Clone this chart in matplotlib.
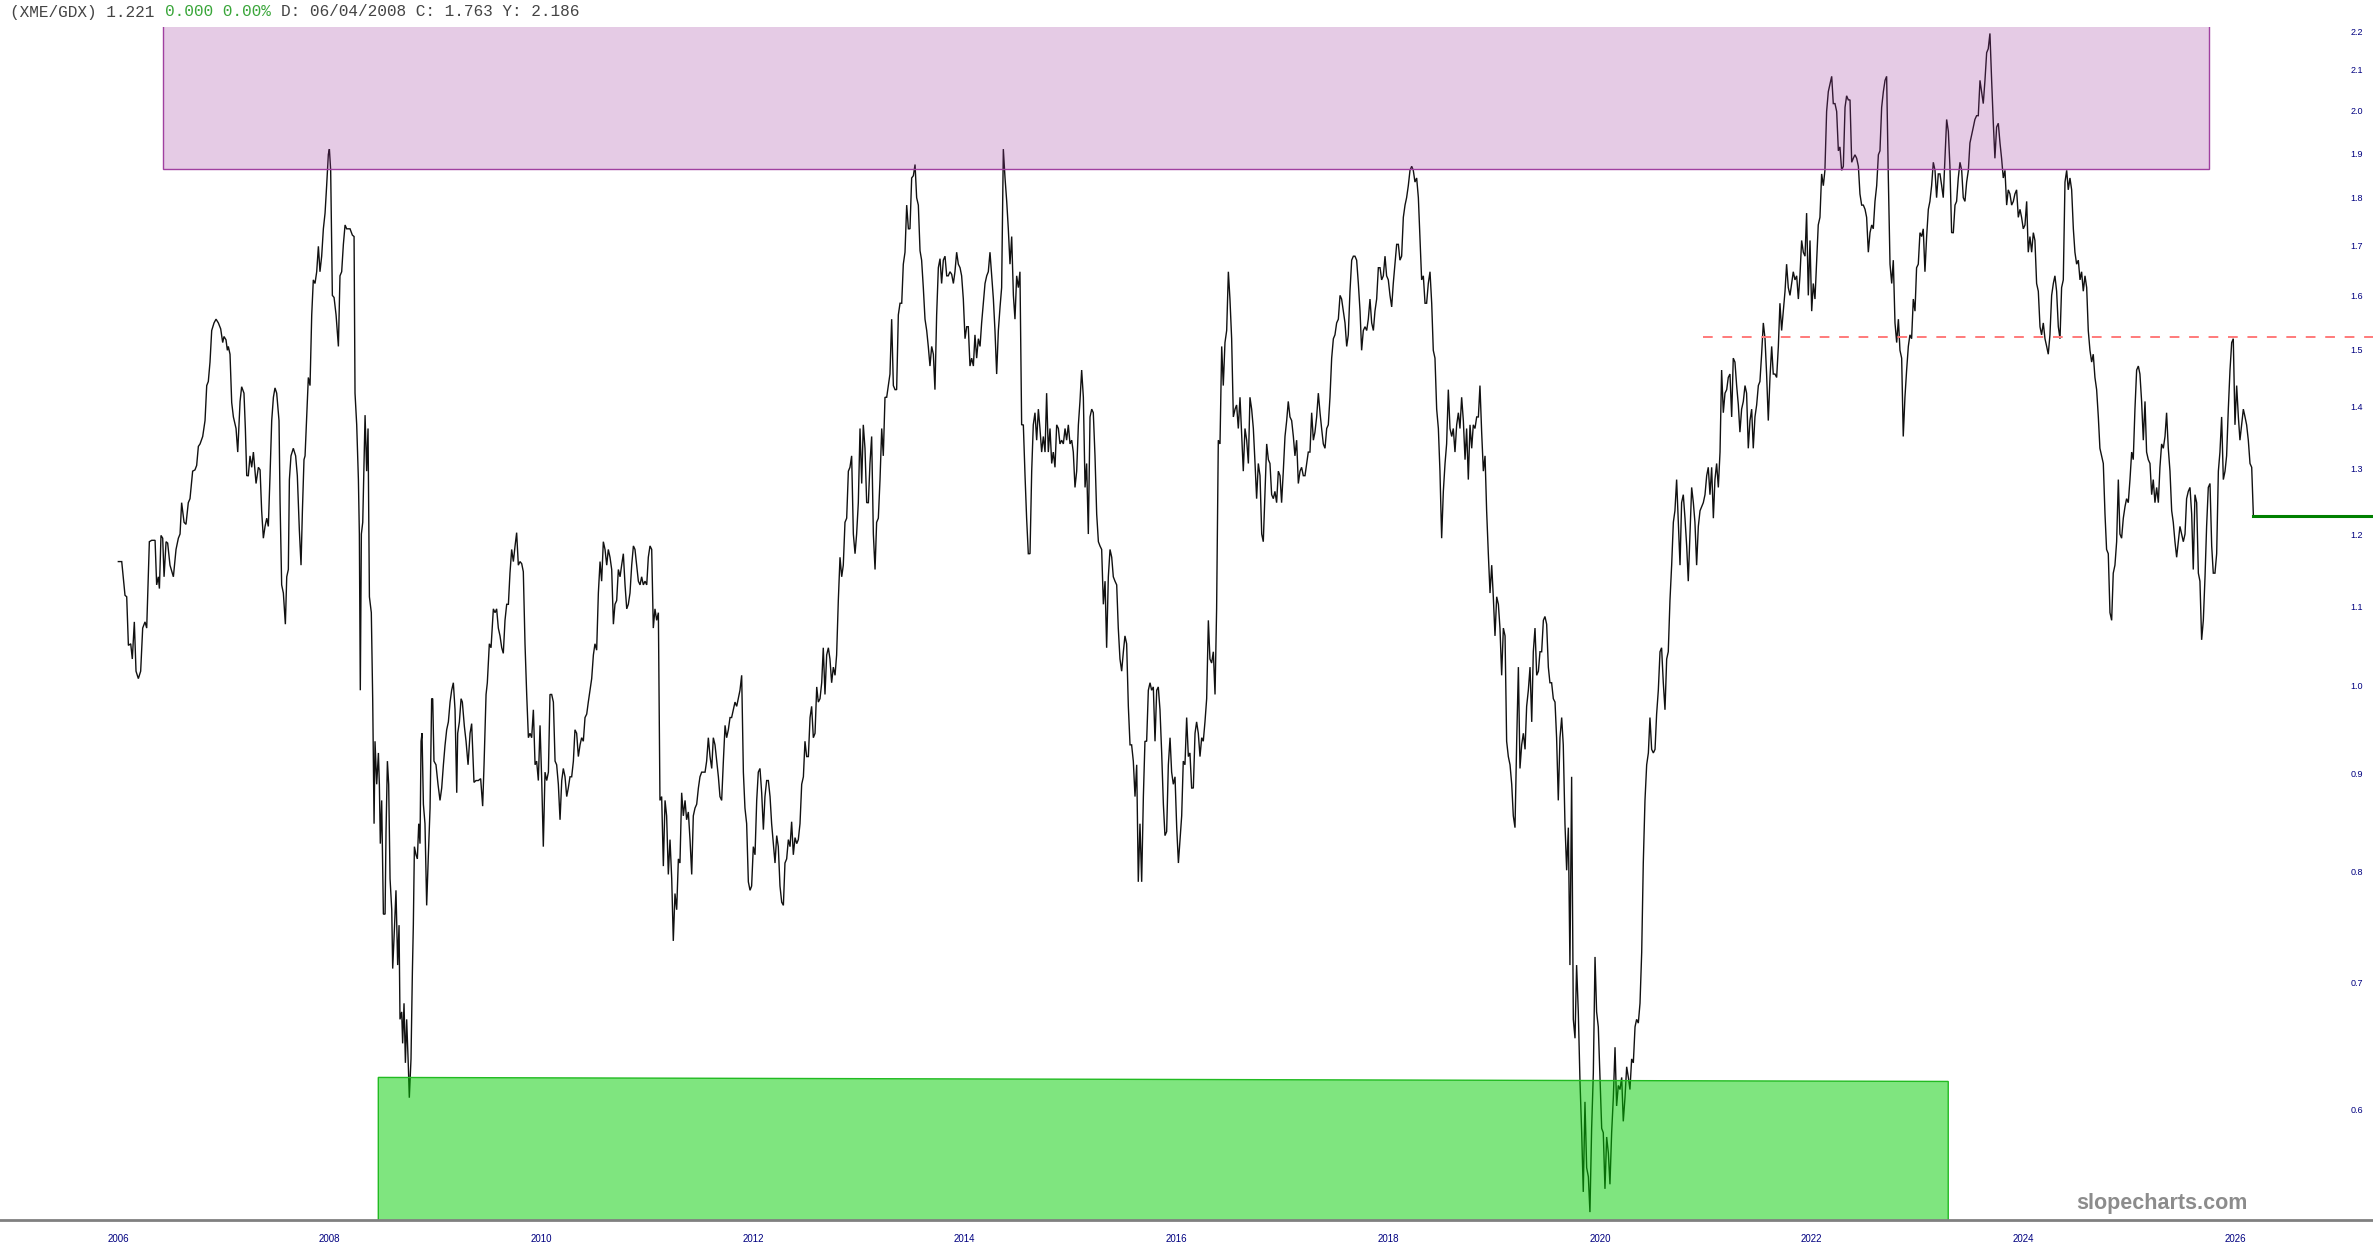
import numpy as np
import matplotlib
matplotlib.use("Agg")
import matplotlib.pyplot as plt
from matplotlib.patches import Rectangle, Polygon
from matplotlib.ticker import FixedLocator, NullLocator, NullFormatter
from matplotlib.transforms import ScaledTranslation

plt.rcParams['font.family'] = ['Liberation Sans', 'DejaVu Sans']

# --- XME/GDX ratio (decimal year, ratio), one block per period ---
yr_06_09 = [
    2006.003, 2006.035, 2006.066, 2006.082, 2006.098, 2006.120, 2006.135, 2006.154, 2006.170, 2006.192,
    2006.214, 2006.233, 2006.255, 2006.271, 2006.296, 2006.318, 2006.350, 2006.365, 2006.381, 2006.391,
    2006.406, 2006.422, 2006.435, 2006.454, 2006.469, 2006.491, 2006.523, 2006.548, 2006.570, 2006.586,
    2006.601, 2006.624, 2006.642, 2006.664, 2006.680, 2006.705, 2006.727, 2006.743, 2006.759, 2006.775,
    2006.800, 2006.822, 2006.838, 2006.853, 2006.869, 2006.885, 2006.907, 2006.926, 2006.948, 2006.970,
    2006.989, 2007.001, 2007.020, 2007.033, 2007.042, 2007.058, 2007.074, 2007.090, 2007.115, 2007.131,
    2007.153, 2007.168, 2007.190, 2007.203, 2007.216, 2007.231, 2007.247, 2007.263, 2007.279, 2007.294,
    2007.304, 2007.326, 2007.342, 2007.357, 2007.373, 2007.389, 2007.405, 2007.420, 2007.436, 2007.452,
    2007.468, 2007.483, 2007.499, 2007.521, 2007.531, 2007.546, 2007.562, 2007.581, 2007.594, 2007.609,
    2007.619, 2007.634, 2007.656, 2007.678, 2007.694, 2007.713, 2007.729, 2007.742, 2007.757, 2007.767,
    2007.782, 2007.798, 2007.814, 2007.830, 2007.845, 2007.861, 2007.877, 2007.893, 2007.908, 2007.924,
    2007.940, 2007.956, 2007.971, 2007.987, 2007.997, 2008.009, 2008.025, 2008.041, 2008.060, 2008.082,
    2008.097, 2008.113, 2008.129, 2008.145, 2008.160, 2008.192, 2008.214, 2008.230, 2008.239, 2008.255,
    2008.271, 2008.280, 2008.289, 2008.299, 2008.312, 2008.334, 2008.349, 2008.362, 2008.375, 2008.393,
    2008.406, 2008.419, 2008.428, 2008.444, 2008.460, 2008.469, 2008.478, 2008.491, 2008.507, 2008.523,
    2008.532, 2008.545, 2008.557, 2008.570, 2008.586, 2008.595, 2008.611, 2008.626, 2008.642, 2008.655,
    2008.664, 2008.680, 2008.689, 2008.702, 2008.715, 2008.727, 2008.743, 2008.752, 2008.768, 2008.781,
    2008.790, 2008.800, 2008.815, 2008.828, 2008.841, 2008.853, 2008.863, 2008.872, 2008.885, 2008.900,
    2008.916, 2008.932, 2008.948, 2008.963, 2008.973, 2008.985, 2009.004, 2009.023, 2009.042, 2009.058,
    2009.074, 2009.089, 2009.105, 2009.121, 2009.137, 2009.152, 2009.168, 2009.184, 2009.200, 2009.209,
    2009.225, 2009.241, 2009.253, 2009.272, 2009.288, 2009.307, 2009.326]
ratio_06_09 = [
    1.156, 1.156, 1.110, 1.108, 1.045, 1.047, 1.028, 1.075, 1.013, 1.004,
    1.013, 1.067, 1.075, 1.067, 1.184, 1.186, 1.186, 1.124, 1.135, 1.119,
    1.193, 1.189, 1.135, 1.184, 1.182, 1.151, 1.135, 1.173, 1.189, 1.195,
    1.241, 1.212, 1.209, 1.241, 1.247, 1.289, 1.291, 1.298, 1.328, 1.332,
    1.344, 1.370, 1.429, 1.436, 1.470, 1.527, 1.541, 1.548, 1.541, 1.530,
    1.505, 1.516, 1.510, 1.491, 1.498, 1.484, 1.400, 1.376, 1.357, 1.319,
    1.402, 1.427, 1.416, 1.357, 1.282, 1.282, 1.313, 1.295, 1.319, 1.289,
    1.270, 1.295, 1.291, 1.229, 1.189, 1.206, 1.218, 1.206, 1.282, 1.370,
    1.409, 1.425, 1.416, 1.370, 1.241, 1.124, 1.113, 1.072, 1.135, 1.145,
    1.276, 1.313, 1.325, 1.313, 1.282, 1.201, 1.151, 1.229, 1.307, 1.313,
    1.376, 1.443, 1.429, 1.556, 1.623, 1.616, 1.639, 1.690, 1.639, 1.670,
    1.726, 1.759, 1.818, 1.888, 1.900, 1.852, 1.593, 1.589, 1.556, 1.498,
    1.631, 1.639, 1.694, 1.734, 1.726, 1.726, 1.713, 1.710, 1.416, 1.363,
    1.276, 1.195, 0.990, 1.195, 1.212, 1.379, 1.289, 1.357, 1.108, 1.087,
    0.980, 0.843, 0.931, 0.884, 0.918, 0.884, 0.823, 0.867, 0.756, 0.756,
    0.835, 0.909, 0.884, 0.789, 0.760, 0.708, 0.742, 0.778, 0.711, 0.746,
    0.666, 0.672, 0.647, 0.679, 0.632, 0.666, 0.629, 0.606, 0.635, 0.705,
    0.746, 0.820, 0.812, 0.808, 0.843, 0.823, 0.931, 0.940, 0.863, 0.843,
    0.764, 0.812, 0.859, 0.980, 0.980, 0.909, 0.905, 0.884, 0.867, 0.880,
    0.905, 0.926, 0.944, 0.953, 0.976, 0.990, 0.999, 0.967, 0.875, 0.940,
    0.953, 0.980, 0.976, 0.948, 0.931, 0.905, 0.940]

yr_09_12 = [
    2009.341, 2009.363, 2009.382, 2009.404, 2009.426, 2009.445, 2009.458, 2009.477, 2009.489, 2009.508, 2009.524,
    2009.546, 2009.562, 2009.577, 2009.593, 2009.609, 2009.625, 2009.640, 2009.656, 2009.672, 2009.688,
    2009.703, 2009.719, 2009.735, 2009.751, 2009.766, 2009.782, 2009.798, 2009.814, 2009.829, 2009.845,
    2009.861, 2009.877, 2009.892, 2009.908, 2009.924, 2009.940, 2009.955, 2009.971, 2009.987, 2010.003,
    2010.018, 2010.034, 2010.050, 2010.066, 2010.081, 2010.097, 2010.113, 2010.129, 2010.144, 2010.160,
    2010.176, 2010.192, 2010.207, 2010.223, 2010.239, 2010.254, 2010.270, 2010.286, 2010.302, 2010.317,
    2010.333, 2010.349, 2010.365, 2010.380, 2010.396, 2010.412, 2010.428, 2010.443, 2010.459, 2010.475,
    2010.491, 2010.506, 2010.522, 2010.538, 2010.554, 2010.569, 2010.585, 2010.601, 2010.617, 2010.632,
    2010.648, 2010.664, 2010.680, 2010.695, 2010.711, 2010.727, 2010.743, 2010.758, 2010.774, 2010.790,
    2010.806, 2010.821, 2010.837, 2010.853, 2010.869, 2010.884, 2010.900, 2010.916, 2010.932, 2010.947,
    2010.963, 2010.979, 2010.995, 2011.010, 2011.026, 2011.042, 2011.057, 2011.073, 2011.089, 2011.105,
    2011.120, 2011.136, 2011.152, 2011.168, 2011.183, 2011.199, 2011.215, 2011.231, 2011.246, 2011.262,
    2011.278, 2011.294, 2011.309, 2011.325, 2011.341, 2011.357, 2011.372, 2011.388, 2011.404, 2011.420,
    2011.435, 2011.451, 2011.467, 2011.483, 2011.498, 2011.514, 2011.530, 2011.546, 2011.561, 2011.577,
    2011.593, 2011.609, 2011.624, 2011.640, 2011.656, 2011.672, 2011.687, 2011.703, 2011.719, 2011.735,
    2011.750, 2011.766, 2011.782, 2011.797, 2011.813, 2011.829, 2011.845, 2011.860, 2011.876, 2011.892,
    2011.908, 2011.923, 2011.939, 2011.955, 2011.971, 2011.986, 2012.002, 2012.018, 2012.034, 2012.049,
    2012.065, 2012.081, 2012.097, 2012.112, 2012.128, 2012.144, 2012.160, 2012.175, 2012.191, 2012.207,
    2012.223, 2012.238, 2012.254, 2012.270, 2012.286, 2012.301, 2012.317, 2012.333, 2012.349, 2012.364,
    2012.380, 2012.396, 2012.412, 2012.427, 2012.443, 2012.459, 2012.475, 2012.490, 2012.506, 2012.522,
    2012.538, 2012.553, 2012.569, 2012.585, 2012.601, 2012.616, 2012.632]
ratio_09_12 = [
    0.951, 0.886, 0.888, 0.888, 0.890, 0.861, 0.905, 0.985, 0.999, 1.047, 1.042,
    1.092, 1.087, 1.092, 1.067, 1.057, 1.042, 1.035, 1.077, 1.098, 1.098,
    1.140, 1.173, 1.156, 1.178, 1.197, 1.151, 1.156, 1.153, 1.142, 1.047,
    0.985, 0.935, 0.940, 0.935, 0.967, 0.905, 0.909, 0.888, 0.949, 0.888,
    0.820, 0.897, 0.888, 0.897, 0.985, 0.985, 0.976, 0.909, 0.905, 0.884,
    0.847, 0.888, 0.901, 0.892, 0.871, 0.880, 0.892, 0.892, 0.909, 0.944,
    0.940, 0.914, 0.927, 0.935, 0.931, 0.958, 0.962, 0.976, 0.990, 1.004,
    1.033, 1.047, 1.039, 1.113, 1.156, 1.129, 1.184, 1.173, 1.151, 1.173,
    1.162, 1.145, 1.072, 1.098, 1.103, 1.145, 1.135, 1.151, 1.167, 1.124,
    1.092, 1.098, 1.113, 1.151, 1.178, 1.173, 1.151, 1.129, 1.124, 1.135,
    1.124, 1.129, 1.124, 1.162, 1.178, 1.173, 1.067, 1.092, 1.077, 1.087,
    0.867, 0.871, 0.801, 0.867, 0.851, 0.793, 0.827, 0.789, 0.732, 0.775,
    0.760, 0.808, 0.804, 0.875, 0.851, 0.867, 0.847, 0.855, 0.827, 0.793,
    0.851, 0.859, 0.863, 0.880, 0.892, 0.897, 0.897, 0.897, 0.909, 0.935,
    0.914, 0.901, 0.935, 0.927, 0.909, 0.892, 0.871, 0.867, 0.909, 0.949,
    0.935, 0.944, 0.958, 0.958, 0.967, 0.976, 0.971, 0.980, 0.990, 1.008,
    0.897, 0.859, 0.843, 0.786, 0.778, 0.782, 0.820, 0.812, 0.867, 0.897,
    0.901, 0.875, 0.837, 0.871, 0.888, 0.888, 0.871, 0.843, 0.823, 0.804,
    0.831, 0.820, 0.782, 0.767, 0.764, 0.804, 0.808, 0.827, 0.820, 0.845,
    0.812, 0.829, 0.823, 0.827, 0.843, 0.884, 0.892, 0.931, 0.914, 0.914,
    0.958, 0.971, 0.935, 0.940, 0.994, 0.976, 0.980]

yr_12_16 = [
    2012.648, 2012.663, 2012.679, 2012.695, 2012.711, 2012.726, 2012.742, 2012.758, 2012.774, 2012.789,
    2012.805, 2012.821, 2012.837, 2012.852, 2012.868, 2012.884, 2012.900, 2012.915, 2012.931, 2012.947,
    2012.963, 2012.978, 2012.994, 2013.010, 2013.026, 2013.041, 2013.057, 2013.073, 2013.089, 2013.104,
    2013.120, 2013.136, 2013.152, 2013.167, 2013.183, 2013.199, 2013.215, 2013.230, 2013.246, 2013.262,
    2013.278, 2013.293, 2013.309, 2013.325, 2013.341, 2013.356, 2013.372, 2013.388, 2013.404, 2013.419,
    2013.435, 2013.451, 2013.467, 2013.482, 2013.498, 2013.514, 2013.530, 2013.545, 2013.561, 2013.577,
    2013.592, 2013.608, 2013.624, 2013.640, 2013.655, 2013.671, 2013.687, 2013.703, 2013.718, 2013.734,
    2013.750, 2013.766, 2013.781, 2013.797, 2013.813, 2013.829, 2013.844, 2013.860, 2013.876, 2013.892,
    2013.907, 2013.923, 2013.939, 2013.955, 2013.970, 2013.986, 2014.002, 2014.018, 2014.033, 2014.049,
    2014.065, 2014.081, 2014.096, 2014.112, 2014.128, 2014.144, 2014.159, 2014.175, 2014.191, 2014.207,
    2014.222, 2014.238, 2014.254, 2014.270, 2014.285, 2014.301, 2014.317, 2014.333, 2014.348, 2014.364,
    2014.380, 2014.396, 2014.411, 2014.427, 2014.443, 2014.459, 2014.474, 2014.490, 2014.506, 2014.521,
    2014.537, 2014.553, 2014.569, 2014.584, 2014.600, 2014.616, 2014.632, 2014.647, 2014.663, 2014.679,
    2014.695, 2014.710, 2014.726, 2014.742, 2014.758, 2014.773, 2014.789, 2014.805, 2014.821, 2014.836,
    2014.852, 2014.868, 2014.884, 2014.899, 2014.915, 2014.931, 2014.947, 2014.962, 2014.978, 2014.994,
    2015.010, 2015.025, 2015.041, 2015.057, 2015.073, 2015.088, 2015.104, 2015.120, 2015.136, 2015.151,
    2015.167, 2015.183, 2015.199, 2015.214, 2015.230, 2015.246, 2015.262, 2015.277, 2015.293, 2015.309,
    2015.325, 2015.340, 2015.356, 2015.372, 2015.388, 2015.403, 2015.419, 2015.435, 2015.450, 2015.466,
    2015.482, 2015.498, 2015.513, 2015.529, 2015.545, 2015.561, 2015.576, 2015.592, 2015.608, 2015.624,
    2015.639, 2015.655, 2015.671, 2015.687, 2015.702, 2015.718, 2015.734, 2015.750, 2015.765, 2015.781,
    2015.797, 2015.813, 2015.828, 2015.844, 2015.860, 2015.876, 2015.891, 2015.907, 2015.923, 2015.939,
    2015.954, 2015.970, 2015.986, 2016.002, 2016.018]
ratio_12_16 = [
    0.999, 1.042, 0.985, 1.033, 1.042, 1.028, 0.999, 1.018, 1.008, 1.033,
    1.103, 1.162, 1.135, 1.151, 1.212, 1.218, 1.289, 1.295, 1.313, 1.195,
    1.167, 1.195, 1.241, 1.357, 1.270, 1.363, 1.325, 1.241, 1.241, 1.301,
    1.344, 1.195, 1.145, 1.212, 1.218, 1.276, 1.357, 1.313, 1.409, 1.409,
    1.429, 1.449, 1.548, 1.429, 1.422, 1.422, 1.556, 1.578, 1.578, 1.654,
    1.678, 1.776, 1.726, 1.726, 1.835, 1.840, 1.865, 1.792, 1.776, 1.681,
    1.662, 1.608, 1.548, 1.527, 1.498, 1.463, 1.498, 1.484, 1.422, 1.556,
    1.647, 1.665, 1.616, 1.662, 1.670, 1.631, 1.631, 1.639, 1.634, 1.616,
    1.639, 1.678, 1.654, 1.647, 1.631, 1.586, 1.512, 1.534, 1.534, 1.463,
    1.477, 1.463, 1.519, 1.477, 1.512, 1.498, 1.541, 1.578, 1.616, 1.631,
    1.639, 1.678, 1.631, 1.586, 1.527, 1.449, 1.527, 1.571, 1.608, 1.900,
    1.835, 1.784, 1.726, 1.654, 1.710, 1.593, 1.548, 1.631, 1.608, 1.639,
    1.363, 1.363, 1.282, 1.218, 1.167, 1.167, 1.289, 1.363, 1.383, 1.338,
    1.389, 1.357, 1.319, 1.344, 1.319, 1.416, 1.319, 1.357, 1.301, 1.319,
    1.295, 1.363, 1.357, 1.332, 1.338, 1.332, 1.357, 1.338, 1.363, 1.332,
    1.338, 1.319, 1.264, 1.289, 1.363, 1.402, 1.456, 1.409, 1.264, 1.301,
    1.195, 1.376, 1.389, 1.383, 1.313, 1.224, 1.184, 1.178, 1.173, 1.098,
    1.129, 1.042, 1.135, 1.173, 1.162, 1.135, 1.129, 1.124, 1.067, 1.028,
    1.013, 1.037, 1.057, 1.047, 0.971, 0.927, 0.927, 0.909, 0.871, 0.905,
    0.786, 0.843, 0.786, 0.871, 0.931, 0.931, 0.990, 0.999, 0.990, 0.994,
    0.931, 0.990, 0.994, 0.967, 0.918, 0.863, 0.831, 0.835, 0.905, 0.935,
    0.897, 0.884, 0.892, 0.839, 0.804]

yr_16_19 = [
    2016.049, 2016.064, 2016.080, 2016.096, 2016.112, 2016.127, 2016.143, 2016.159, 2016.175, 2016.190,
    2016.206, 2016.222, 2016.238, 2016.253, 2016.269, 2016.285, 2016.301, 2016.316, 2016.332, 2016.348,
    2016.364, 2016.379, 2016.395, 2016.411, 2016.427, 2016.442, 2016.458, 2016.474, 2016.490, 2016.505,
    2016.521, 2016.537, 2016.553, 2016.568, 2016.584, 2016.600, 2016.616, 2016.631, 2016.647, 2016.663,
    2016.679, 2016.694, 2016.710, 2016.726, 2016.742, 2016.757, 2016.773, 2016.789, 2016.805, 2016.820,
    2016.836, 2016.852, 2016.868, 2016.883, 2016.899, 2016.915, 2016.930, 2016.946, 2016.962, 2016.978,
    2016.993, 2017.009, 2017.025, 2017.041, 2017.056, 2017.072, 2017.088, 2017.104, 2017.119, 2017.135,
    2017.151, 2017.167, 2017.182, 2017.198, 2017.214, 2017.230, 2017.245, 2017.261, 2017.277, 2017.293,
    2017.308, 2017.324, 2017.340, 2017.356, 2017.371, 2017.387, 2017.403, 2017.419, 2017.434, 2017.450,
    2017.466, 2017.482, 2017.497, 2017.513, 2017.529, 2017.545, 2017.560, 2017.576, 2017.592, 2017.608,
    2017.623, 2017.639, 2017.655, 2017.671, 2017.686, 2017.702, 2017.718, 2017.734, 2017.749, 2017.765,
    2017.781, 2017.797, 2017.812, 2017.828, 2017.844, 2017.860, 2017.875, 2017.891, 2017.907, 2017.923,
    2017.938, 2017.954, 2017.970, 2017.985, 2018.001, 2018.017, 2018.033, 2018.048, 2018.064, 2018.080,
    2018.096, 2018.111, 2018.127, 2018.143, 2018.159, 2018.174, 2018.190, 2018.206, 2018.222, 2018.237,
    2018.253, 2018.269, 2018.285, 2018.300, 2018.316, 2018.332, 2018.348, 2018.363, 2018.379, 2018.395,
    2018.411, 2018.426, 2018.442, 2018.458, 2018.474, 2018.489, 2018.505, 2018.521, 2018.537, 2018.552,
    2018.568, 2018.584, 2018.600, 2018.615, 2018.631, 2018.647, 2018.663, 2018.678, 2018.694, 2018.710,
    2018.726, 2018.741, 2018.757, 2018.773, 2018.789, 2018.804, 2018.820, 2018.836, 2018.852, 2018.867,
    2018.883, 2018.899, 2018.915, 2018.930, 2018.946, 2018.962, 2018.978, 2018.993, 2019.009, 2019.025,
    2019.041, 2019.056, 2019.072, 2019.088, 2019.104, 2019.119, 2019.135, 2019.151, 2019.167, 2019.182,
    2019.198, 2019.214, 2019.230, 2019.245, 2019.261, 2019.277, 2019.293, 2019.308, 2019.324, 2019.340,
    2019.356, 2019.371, 2019.387, 2019.403, 2019.419, 2019.434]
ratio_16_19 = [
    0.851, 0.909, 0.905, 0.958, 0.914, 0.918, 0.880, 0.880, 0.940, 0.953,
    0.940, 0.914, 0.935, 0.931, 0.953, 0.980, 1.077, 1.028, 1.023, 1.037,
    0.985, 1.092, 1.338, 1.332, 1.498, 1.429, 1.505, 1.527, 1.639, 1.586,
    1.512, 1.376, 1.389, 1.396, 1.357, 1.409, 1.344, 1.289, 1.357, 1.338,
    1.301, 1.409, 1.389, 1.357, 1.301, 1.247, 1.301, 1.282, 1.195, 1.184,
    1.258, 1.332, 1.307, 1.301, 1.253, 1.247, 1.258, 1.241, 1.289, 1.282,
    1.241, 1.289, 1.344, 1.370, 1.402, 1.376, 1.370, 1.344, 1.313, 1.338,
    1.270, 1.289, 1.295, 1.282, 1.282, 1.301, 1.319, 1.319, 1.383, 1.338,
    1.351, 1.376, 1.416, 1.383, 1.357, 1.332, 1.325, 1.357, 1.363, 1.409,
    1.477, 1.512, 1.519, 1.541, 1.548, 1.593, 1.586, 1.563, 1.541, 1.498,
    1.519, 1.601, 1.662, 1.670, 1.670, 1.662, 1.616, 1.563, 1.491, 1.527,
    1.534, 1.527, 1.548, 1.586, 1.541, 1.527, 1.563, 1.586, 1.647, 1.647,
    1.623, 1.631, 1.670, 1.631, 1.623, 1.593, 1.571, 1.616, 1.654, 1.694,
    1.694, 1.662, 1.670, 1.750, 1.776, 1.792, 1.818, 1.852, 1.861, 1.852,
    1.826, 1.835, 1.792, 1.710, 1.623, 1.631, 1.578, 1.578, 1.616, 1.639,
    1.578, 1.491, 1.477, 1.389, 1.357, 1.289, 1.189, 1.258, 1.301, 1.332,
    1.422, 1.357, 1.344, 1.357, 1.319, 1.363, 1.383, 1.357, 1.409, 1.370,
    1.307, 1.357, 1.276, 1.363, 1.325, 1.363, 1.357, 1.376, 1.376, 1.429,
    1.351, 1.289, 1.313, 1.229, 1.167, 1.113, 1.151, 1.108, 1.057, 1.108,
    1.098, 1.067, 1.008, 1.067, 1.057, 0.931, 0.914, 0.905, 0.884, 0.851,
    0.839, 0.931, 1.018, 0.901, 0.927, 0.940, 0.922, 0.971, 0.990, 1.018,
    0.953, 1.037, 1.067, 1.008, 1.013, 1.037]

yr_19_22 = [
    2019.450, 2019.466, 2019.481, 2019.497, 2019.513, 2019.528, 2019.544, 2019.560, 2019.576, 2019.591,
    2019.607, 2019.623, 2019.639, 2019.654, 2019.670, 2019.686, 2019.702, 2019.717, 2019.733, 2019.749,
    2019.765, 2019.780, 2019.796, 2019.812, 2019.828, 2019.843, 2019.859, 2019.875, 2019.891, 2019.906,
    2019.922, 2019.938, 2019.954, 2019.969, 2019.985, 2020.001, 2020.017, 2020.032, 2020.048, 2020.064,
    2020.080, 2020.095, 2020.111, 2020.127, 2020.143, 2020.158, 2020.174, 2020.190, 2020.206, 2020.221,
    2020.237, 2020.253, 2020.269, 2020.284, 2020.300, 2020.316, 2020.332, 2020.347, 2020.363, 2020.379,
    2020.395, 2020.410, 2020.426, 2020.442, 2020.458, 2020.473, 2020.489, 2020.505, 2020.521, 2020.536,
    2020.552, 2020.568, 2020.583, 2020.599, 2020.615, 2020.631, 2020.646, 2020.662, 2020.678, 2020.694,
    2020.709, 2020.725, 2020.741, 2020.757, 2020.772, 2020.788, 2020.804, 2020.820, 2020.835, 2020.851,
    2020.867, 2020.883, 2020.898, 2020.914, 2020.930, 2020.946, 2020.961, 2020.977, 2020.993, 2021.009,
    2021.024, 2021.040, 2021.056, 2021.072, 2021.087, 2021.103, 2021.119, 2021.135, 2021.150, 2021.166,
    2021.182, 2021.198, 2021.213, 2021.229, 2021.245, 2021.260, 2021.276, 2021.292, 2021.308, 2021.323,
    2021.339, 2021.355, 2021.371, 2021.386, 2021.402, 2021.418, 2021.434, 2021.449, 2021.465, 2021.481,
    2021.497, 2021.512, 2021.528, 2021.544, 2021.560, 2021.575, 2021.591, 2021.607, 2021.623, 2021.638,
    2021.654, 2021.670, 2021.686, 2021.701, 2021.717, 2021.733, 2021.749, 2021.764, 2021.780, 2021.796,
    2021.812, 2021.827, 2021.843, 2021.859, 2021.875, 2021.890, 2021.906, 2021.922, 2021.938, 2021.953,
    2021.969, 2021.985, 2022.001, 2022.016, 2022.032, 2022.048, 2022.063, 2022.079, 2022.095, 2022.111,
    2022.126, 2022.142, 2022.158, 2022.174, 2022.190, 2022.205, 2022.221, 2022.237, 2022.253, 2022.268,
    2022.284, 2022.300, 2022.316, 2022.331, 2022.347, 2022.363, 2022.379, 2022.394, 2022.410, 2022.426,
    2022.442, 2022.457, 2022.473, 2022.489, 2022.505, 2022.520, 2022.536, 2022.552, 2022.568, 2022.583,
    2022.599, 2022.615, 2022.631, 2022.646, 2022.662, 2022.678, 2022.694, 2022.709, 2022.725, 2022.741,
    2022.757, 2022.772, 2022.788, 2022.804, 2022.820, 2022.835]
ratio_19_22 = [
    1.037, 1.077, 1.082, 1.072, 1.018, 0.999, 0.999, 0.980, 0.976, 0.935,
    0.867, 0.935, 0.958, 0.927, 0.843, 0.797, 0.839, 0.711, 0.892, 0.666,
    0.651, 0.711, 0.672, 0.618, 0.581, 0.541, 0.603, 0.557, 0.551, 0.528,
    0.584, 0.624, 0.718, 0.672, 0.660, 0.621, 0.584, 0.581, 0.543, 0.578,
    0.567, 0.546, 0.581, 0.606, 0.644, 0.600, 0.615, 0.612, 0.621, 0.589,
    0.606, 0.629, 0.621, 0.612, 0.635, 0.632, 0.660, 0.666, 0.663, 0.679,
    0.722, 0.804, 0.867, 0.905, 0.918, 0.958, 0.922, 0.918, 0.922, 0.962,
    0.990, 1.037, 1.042, 0.999, 0.967, 1.028, 1.037, 1.103, 1.151, 1.212,
    1.229, 1.276, 1.212, 1.151, 1.241, 1.253, 1.218, 1.178, 1.129, 1.195,
    1.264, 1.241, 1.212, 1.151, 1.206, 1.229, 1.235, 1.241, 1.253, 1.282,
    1.295, 1.253, 1.295, 1.218, 1.276, 1.301, 1.264, 1.319, 1.456, 1.383,
    1.416, 1.422, 1.443, 1.449, 1.376, 1.477, 1.470, 1.429, 1.396, 1.351,
    1.389, 1.402, 1.429, 1.416, 1.325, 1.370, 1.389, 1.325, 1.376, 1.396,
    1.429, 1.436, 1.484, 1.541, 1.512, 1.449, 1.370, 1.443, 1.498, 1.449,
    1.449, 1.443, 1.498, 1.578, 1.527, 1.563, 1.601, 1.654, 1.608, 1.593,
    1.616, 1.639, 1.623, 1.631, 1.586, 1.631, 1.702, 1.678, 1.670, 1.759,
    1.593, 1.702, 1.563, 1.616, 1.586, 1.662, 1.734, 1.750, 1.844, 1.818,
    1.852, 1.988, 2.036, 2.055, 2.074, 2.007, 2.007, 1.988, 1.896, 1.905,
    1.852, 1.861, 1.998, 2.026, 2.016, 2.016, 1.870, 1.879, 1.887, 1.879,
    1.861, 1.800, 1.776, 1.776, 1.767, 1.750, 1.678, 1.718, 1.734, 1.726,
    1.784, 1.818, 1.887, 1.896, 1.998, 2.036, 2.064, 2.074, 1.835, 1.654,
    1.616, 1.662, 1.541, 1.505, 1.548, 1.491]

yr_22_26 = [
    2022.851, 2022.866, 2022.882, 2022.898, 2022.914, 2022.929, 2022.945, 2022.961, 2022.977, 2022.992,
    2023.008, 2023.024, 2023.040, 2023.055, 2023.071, 2023.087, 2023.103, 2023.118, 2023.134, 2023.150,
    2023.166, 2023.181, 2023.197, 2023.213, 2023.229, 2023.244, 2023.260, 2023.276, 2023.292, 2023.307,
    2023.323, 2023.339, 2023.355, 2023.370, 2023.386, 2023.402, 2023.418, 2023.433, 2023.449, 2023.465,
    2023.481, 2023.496, 2023.512, 2023.528, 2023.543, 2023.559, 2023.575, 2023.591, 2023.606, 2023.622,
    2023.638, 2023.654, 2023.669, 2023.685, 2023.701, 2023.717, 2023.732, 2023.748, 2023.764, 2023.780,
    2023.795, 2023.811, 2023.827, 2023.843, 2023.858, 2023.874, 2023.890, 2023.906, 2023.921, 2023.937,
    2023.953, 2023.969, 2023.984, 2024.000, 2024.016, 2024.032, 2024.047, 2024.063, 2024.079, 2024.095,
    2024.110, 2024.126, 2024.142, 2024.158, 2024.173, 2024.189, 2024.205, 2024.221, 2024.236, 2024.252,
    2024.268, 2024.284, 2024.299, 2024.315, 2024.331, 2024.347, 2024.362, 2024.378, 2024.394, 2024.410,
    2024.425, 2024.441, 2024.457, 2024.473, 2024.488, 2024.504, 2024.520, 2024.536, 2024.551, 2024.567,
    2024.583, 2024.599, 2024.614, 2024.630, 2024.646, 2024.661, 2024.677, 2024.693, 2024.709, 2024.724,
    2024.740, 2024.756, 2024.772, 2024.787, 2024.803, 2024.819, 2024.835, 2024.850, 2024.866, 2024.882,
    2024.898, 2024.913, 2024.929, 2024.945, 2024.961, 2024.976, 2024.992, 2025.008, 2025.024, 2025.039,
    2025.055, 2025.071, 2025.087, 2025.102, 2025.118, 2025.134, 2025.150, 2025.165, 2025.181, 2025.197,
    2025.213, 2025.228, 2025.244, 2025.260, 2025.276, 2025.291, 2025.307, 2025.323, 2025.339, 2025.354,
    2025.370, 2025.386, 2025.402, 2025.417, 2025.433, 2025.449, 2025.465, 2025.480, 2025.496, 2025.512,
    2025.528, 2025.543, 2025.559, 2025.575, 2025.591, 2025.606, 2025.622, 2025.638, 2025.654, 2025.669,
    2025.685, 2025.701, 2025.717, 2025.732, 2025.748, 2025.764, 2025.780, 2025.795, 2025.811, 2025.827,
    2025.843, 2025.858, 2025.874, 2025.890, 2025.906, 2025.921, 2025.937, 2025.953, 2025.969, 2025.984,
    2026.000, 2026.016, 2026.032, 2026.047, 2026.063, 2026.079, 2026.095, 2026.110, 2026.126, 2026.142,
    2026.158, 2026.174]
ratio_22_26 = [
    1.477, 1.344, 1.409, 1.456, 1.498, 1.519, 1.512, 1.586, 1.563, 1.647,
    1.654, 1.718, 1.710, 1.726, 1.639, 1.710, 1.767, 1.784, 1.818, 1.870,
    1.852, 1.792, 1.844, 1.844, 1.818, 1.792, 1.879, 1.969, 1.941, 1.861,
    1.718, 1.718, 1.776, 1.784, 1.835, 1.870, 1.852, 1.792, 1.784, 1.826,
    1.852, 1.914, 1.932, 1.951, 1.969, 1.978, 1.978, 2.064, 2.036, 2.007,
    2.064, 2.134, 2.144, 2.184, 2.064, 1.960, 1.879, 1.951, 1.960, 1.914,
    1.879, 1.835, 1.852, 1.776, 1.809, 1.800, 1.776, 1.784, 1.800, 1.809,
    1.750, 1.767, 1.750, 1.726, 1.734, 1.784, 1.678, 1.710, 1.678, 1.718,
    1.702, 1.616, 1.601, 1.534, 1.519, 1.541, 1.512, 1.498, 1.484, 1.519,
    1.593, 1.616, 1.631, 1.601, 1.534, 1.512, 1.608, 1.623, 1.826, 1.852,
    1.809, 1.835, 1.809, 1.726, 1.678, 1.654, 1.662, 1.623, 1.639, 1.601,
    1.631, 1.608, 1.527, 1.491, 1.470, 1.484, 1.443, 1.422, 1.376, 1.325,
    1.313, 1.301, 1.224, 1.173, 1.167, 1.087, 1.077, 1.140, 1.151, 1.184,
    1.276, 1.195, 1.189, 1.218, 1.235, 1.247, 1.241, 1.276, 1.319, 1.307,
    1.389, 1.456, 1.463, 1.449, 1.402, 1.338, 1.402, 1.319, 1.307, 1.301,
    1.253, 1.276, 1.241, 1.264, 1.241, 1.295, 1.332, 1.325, 1.344, 1.383,
    1.325, 1.289, 1.229, 1.212, 1.184, 1.162, 1.184, 1.206, 1.195, 1.184,
    1.195, 1.247, 1.258, 1.264, 1.224, 1.145, 1.253, 1.241, 1.140, 1.129,
    1.052, 1.077, 1.135, 1.206, 1.264, 1.270, 1.178, 1.140, 1.140, 1.167,
    1.289, 1.319, 1.376, 1.276, 1.289, 1.313, 1.389, 1.456, 1.505, 1.512,
    1.363, 1.429, 1.376, 1.338, 1.363, 1.389, 1.376, 1.363, 1.338, 1.301,
    1.295, 1.221]

last_close = 1.221
resistance = 1.515
resistance_from = 2020.97

# shaded zones: (start year, end year, level)
sell_zone = (2006.428, 2025.757, 1.855)
buy_zone_x = [2008.459, 2023.291]
buy_zone_top = [0.621, 0.618]

year_ticks = list(range(2006, 2027, 2))
price_ticks = [0.6, 0.7, 0.8, 0.9, 1.0, 1.1, 1.2, 1.3, 1.4, 1.5, 1.6, 1.7, 1.8, 1.9, 2.0, 2.1, 2.2]

years = np.concatenate([yr_06_09, yr_09_12, yr_12_16, yr_16_19, yr_19_22, yr_22_26])
ratio = np.concatenate([ratio_06_09, ratio_09_12, ratio_12_16, ratio_16_19, ratio_19_22, ratio_22_26])

W, H = 2373, 1260
fig = plt.figure(figsize=(W / 100, H / 100), dpi=100, facecolor='white')
ax = fig.add_axes([0, 40 / H, 1, 1193 / H])
ax.set_facecolor('white')

x_lo, x_hi = 2004.885, 2027.304
ax.set_xlim(x_lo, x_hi)
ax.set_yscale('log')
ax.set_ylim(0.523, 2.201)

# price line
ax.plot(years, ratio, color='#111111', lw=1.0, zorder=2, solid_joinstyle='miter')

# zones drawn translucent over the line
ax.add_patch(Rectangle((sell_zone[0], sell_zone[2]), sell_zone[1] - sell_zone[0], 5.0,
                       facecolor=(0.6, 0.2, 0.6, 0.25), edgecolor='#a040a0', lw=1.0, zorder=3))
ax.add_patch(Polygon([(buy_zone_x[0], 0.3), (buy_zone_x[0], buy_zone_top[0]),
                      (buy_zone_x[1], buy_zone_top[1]), (buy_zone_x[1], 0.3)], closed=True,
                     facecolor=(0.0, 0.8, 0.0, 0.5), edgecolor='#22bb22', lw=1.0, zorder=3))

# resistance and last close
ax.plot([resistance_from, x_hi], [resistance, resistance], color='#ff7a7a', lw=1.4,
        linestyle=(0, (5, 5)), zorder=4)
ax.plot([years[-1], x_hi], [last_close, last_close], color='#008000', lw=2.2, zorder=4)

# axes styling
for s in ['top', 'left', 'right']:
    ax.spines[s].set_visible(False)
ax.spines['bottom'].set_color('#808080')
ax.spines['bottom'].set_linewidth(2.0)
ax.spines['bottom'].set_zorder(5)

ax.xaxis.set_major_locator(FixedLocator(year_ticks))
ax.set_xticklabels([str(y) for y in year_ticks])
ax.xaxis.set_minor_locator(NullLocator())
ax.tick_params(axis='x', length=0, pad=10, labelsize=7, labelcolor='#000080')

ax.yaxis.tick_right()
ax.yaxis.set_major_locator(FixedLocator(price_ticks))
ax.set_yticklabels(['%.1f' % p for p in price_ticks])
ax.yaxis.set_minor_locator(NullLocator())
ax.yaxis.set_minor_formatter(NullFormatter())
ax.tick_params(axis='y', length=0, pad=-16, labelsize=6.5, labelcolor='#000080')
shift = ScaledTranslation(0, -0.04, fig.dpi_scale_trans)
for lab in ax.get_yticklabels():
    lab.set_transform(lab.get_transform() + shift)

# header line
fs = 11.6
cw = 0.6 * fs * 100 / 72 / W
hx, hy = 10 / W, 1 - 12 / H
mono = ['Liberation Mono', 'DejaVu Sans Mono']
fig.text(hx, hy, "(XME/GDX) 1.221", family=mono, size=fs, color='#444444', va='center')
fig.text(hx + 16 * cw, hy, "0.000 0.00%", family=mono, size=fs, color='#3aa63a', va='center')
fig.text(hx + 28 * cw, hy, "D: 06/04/2008 C: 1.763 Y: 2.186", family=mono, size=fs,
         color='#444444', va='center')

# watermark
fig.text(2162 / W, 1 - 1203 / H, "slopecharts.com", size=15.5, weight='bold', color='#8c8c8c',
         ha='center', va='center')

fig.savefig('out.png', dpi=100, facecolor='white')
